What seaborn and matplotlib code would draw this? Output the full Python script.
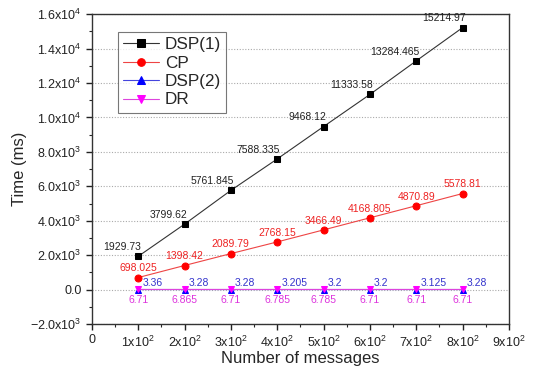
import matplotlib
matplotlib.use("Agg")
import matplotlib.pyplot as plt
import seaborn as sns
import pandas as pd
from matplotlib.ticker import FixedLocator, MultipleLocator

sns.set_theme(style="ticks")
plt.rcParams['font.family'] = ['Liberation Sans', 'DejaVu Sans']
plt.rcParams['mathtext.fontset'] = 'custom'
plt.rcParams['mathtext.rm'] = 'Liberation Sans'

messages = [100, 200, 300, 400, 500, 600, 700, 800]
dsp1 = [1929.73, 3799.62, 5761.845, 7588.335, 9468.12, 11333.58, 13284.465, 15214.97]
cp = [698.025, 1398.42, 2089.79, 2768.15, 3466.49, 4168.805, 4870.89, 5578.81]
dsp2 = [3.36, 3.28, 3.28, 3.205, 3.2, 3.2, 3.125, 3.28]
dr = [6.71, 6.865, 6.71, 6.785, 6.785, 6.71, 6.71, 6.71]

dsp1_txt = ["1929.73", "3799.62", "5761.845", "7588.335", "9468.12", "11333.58", "13284.465", "15214.97"]
cp_txt = ["698.025", "1398.42", "2089.79", "2768.15", "3466.49", "4168.805", "4870.89", "5578.81"]
dsp2_txt = ["3.36", "3.28", "3.28", "3.205", "3.2", "3.2", "3.125", "3.28"]
dr_txt = ["6.71", "6.865", "6.71", "6.785", "6.785", "6.71", "6.71", "6.71"]

x_ticks = [0, 100, 200, 300, 400, 500, 600, 700, 800, 900]
x_labels = ["0"] + [rf"${k}\mathregular{{x}}10^2$" for k in range(1, 10)]
y_ticks = [-2000, 0, 2000, 4000, 6000, 8000, 10000, 12000, 14000, 16000]
y_labels = [r"$-2.0\mathregular{x}10^3$", "0.0",
            r"$2.0\mathregular{x}10^3$", r"$4.0\mathregular{x}10^3$",
            r"$6.0\mathregular{x}10^3$", r"$8.0\mathregular{x}10^3$",
            r"$1.0\mathregular{x}10^4$", r"$1.2\mathregular{x}10^4$",
            r"$1.4\mathregular{x}10^4$", r"$1.6\mathregular{x}10^4$"]

fig = plt.figure(figsize=(5.34, 3.72), dpi=100)
ax = fig.add_axes([0.172, 0.129, 0.781, 0.833])

series = [
    ("DSP(1)", dsp1, "#333333", "black", "s"),
    ("CP", cp, "#ee4444", "red", "o"),
    ("DSP(2)", dsp2, "#4444dd", "blue", "^"),
    ("DR", dr, "#dd44dd", "magenta", "v"),
]
for name, vals, lc, mc, mk in series:
    df = pd.DataFrame({"x": messages, "y": vals})
    sns.lineplot(data=df, x="x", y="y", ax=ax, color=lc, lw=0.8,
                 marker=mk, markersize=5, markerfacecolor=mc,
                 markeredgecolor=mc, label=name)

fs = 7.5
for xv, yv, t in zip(messages, dsp1, dsp1_txt):
    ax.annotate(t, (xv, yv), xytext=(2, 3), textcoords="offset points",
                ha="right", va="bottom", fontsize=fs, color="#222222")
for xv, yv, t in zip(messages, cp, cp_txt):
    ax.annotate(t, (xv, yv), xytext=(0, 3), textcoords="offset points",
                ha="center", va="bottom", fontsize=fs, color="#ee2222")
for xv, yv, t in zip(messages, dsp2, dsp2_txt):
    ax.annotate(t, (xv, yv), xytext=(3, 1), textcoords="offset points",
                ha="left", va="bottom", fontsize=fs, color="#3333cc")
for xv, yv, t in zip(messages, dr, dr_txt):
    ax.annotate(t, (xv, yv), xytext=(0, -4), textcoords="offset points",
                ha="center", va="top", fontsize=fs, color="#dd33dd")

ax.set_xlim(0, 900)
ax.set_ylim(-2000, 16000)
ax.xaxis.set_major_locator(FixedLocator(x_ticks))
ax.set_xticklabels(x_labels)
ax.yaxis.set_major_locator(FixedLocator(y_ticks))
ax.set_yticklabels(y_labels)
ax.xaxis.set_minor_locator(MultipleLocator(50))
ax.yaxis.set_minor_locator(MultipleLocator(1000))
ax.tick_params(which="major", length=4, width=1, labelsize=9, colors="#222222")
ax.tick_params(which="minor", length=2, width=0.8)
ax.grid(axis="y", which="major", ls=(0, (1, 1.5)), color="#aaaaaa", lw=0.8)
for s in ax.spines.values():
    s.set_linewidth(1.0)
    s.set_color("#333333")

ax.set_xlabel("Number of messages", fontsize=12, labelpad=1)
ax.set_ylabel("Time (ms)", fontsize=12, labelpad=2)

leg = ax.legend(loc="upper left", bbox_to_anchor=(0.062, 0.942), fontsize=12.3,
                frameon=True, fancybox=False, handlelength=2.1,
                borderpad=0.3, labelspacing=0.2, handletextpad=0.35,
                borderaxespad=0, markerscale=1.1)
leg.get_frame().set_edgecolor("#555555")
leg.get_frame().set_linewidth(0.8)

fig.savefig("out.png", dpi=100)
